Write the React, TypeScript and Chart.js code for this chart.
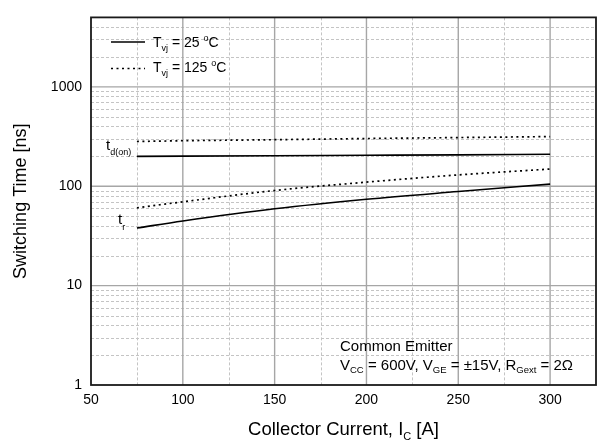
import React, { useEffect, useRef } from 'react';
import { Chart, registerables } from 'chart.js';

Chart.register(...registerables);

const FONT = '"Liberation Sans", Arial, Helvetica, sans-serif';

// Data (Collector current in A, switching time in ns)
const currents = [75, 100, 150, 200, 250, 300];
const tdOn25 = [200, 201, 203, 205, 207, 210];
const tdOn125 = [282, 287, 294, 302, 309, 316];
const tr25 = [38, 44.7, 59.3, 74, 88.5, 105];
const tr125 = [60.7, 69.7, 90.6, 110, 130, 149];

// Axis ticks and grid values
const xTicks = [50, 100, 150, 200, 250, 300];
const xMajorGrid = [100, 150, 200, 250, 300];
const xMinorGrid = [75, 125, 175, 225, 275];
const yTicks = [1, 10, 100, 1000];
const yMajorGrid = [10, 100, 1000];
const yMinorGrid = [
  2, 3, 4, 5, 6, 7, 8, 9,
  20, 30, 40, 50, 60, 70, 80, 90,
  200, 300, 400, 500, 600, 700, 800, 900,
  2000, 3000, 4000,
];

type Part = [string, 'n' | 'sub' | 'sup'];

function partFont(k: string, size: number, small: number) {
  return `${k === 'n' ? size : small}px ${FONT}`;
}

function richWidth(ctx: CanvasRenderingContext2D, parts: Part[], size: number, small: number) {
  let w = 0;
  for (const [t, k] of parts) {
    ctx.font = partFont(k, size, small);
    w += ctx.measureText(t).width;
  }
  return w;
}

function drawRich(
  ctx: CanvasRenderingContext2D,
  parts: Part[],
  x: number,
  y: number,
  size: number,
  small: number,
  subDy: number,
  supDy: number
) {
  let cx = x;
  ctx.textAlign = 'left';
  ctx.textBaseline = 'alphabetic';
  for (const [t, k] of parts) {
    ctx.font = partFont(k, size, small);
    const dy = k === 'sub' ? subDy : k === 'sup' ? supDy : 0;
    ctx.fillText(t, cx, y + dy);
    cx += ctx.measureText(t).width;
  }
}

const decorPlugin = {
  id: 'decor',
  beforeDatasetsDraw(chart: any) {
    const { ctx, chartArea, scales } = chart;
    const { left, right, top, bottom } = chartArea;
    const xs = scales.x;
    const ys = scales.y;
    ctx.save();
    // minor grid
    ctx.strokeStyle = '#c4c4c4';
    ctx.lineWidth = 1;
    ctx.setLineDash([3, 2]);
    for (const v of yMinorGrid) {
      const py = Math.round(ys.getPixelForValue(v)) + 0.5;
      ctx.beginPath();
      ctx.moveTo(left, py);
      ctx.lineTo(right, py);
      ctx.stroke();
    }
    for (const v of xMinorGrid) {
      const px = Math.round(xs.getPixelForValue(v)) + 0.5;
      ctx.beginPath();
      ctx.moveTo(px, top);
      ctx.lineTo(px, bottom);
      ctx.stroke();
    }
    // major grid
    ctx.setLineDash([]);
    ctx.strokeStyle = '#a6a6a6';
    ctx.lineWidth = 1.4;
    for (const v of yMajorGrid) {
      const py = ys.getPixelForValue(v);
      ctx.beginPath();
      ctx.moveTo(left, py);
      ctx.lineTo(right, py);
      ctx.stroke();
    }
    for (const v of xMajorGrid) {
      const px = xs.getPixelForValue(v);
      ctx.beginPath();
      ctx.moveTo(px, top);
      ctx.lineTo(px, bottom);
      ctx.stroke();
    }
    ctx.restore();
  },
  afterDraw(chart: any) {
    const { ctx, chartArea } = chart;
    const { left, right, top, bottom } = chartArea;
    ctx.save();
    // frame
    ctx.setLineDash([]);
    ctx.strokeStyle = '#1a1a1a';
    ctx.lineWidth = 1.8;
    ctx.strokeRect(left, top, right - left, bottom - top);

    ctx.fillStyle = '#000';
    // legend
    ctx.strokeStyle = '#000';
    ctx.lineWidth = 1.5;
    ctx.beginPath();
    ctx.moveTo(111, 42);
    ctx.lineTo(145, 42);
    ctx.stroke();
    ctx.setLineDash([2, 3.5]);
    ctx.lineWidth = 1.6;
    ctx.beginPath();
    ctx.moveTo(111, 68.5);
    ctx.lineTo(145, 68.5);
    ctx.stroke();
    ctx.setLineDash([]);
    drawRich(ctx, [['T', 'n'], ['vj', 'sub'], [' = 25 ', 'n'], ['o', 'sup'], ['C', 'n']], 153, 46.5, 14, 9, 4, -6);
    drawRich(ctx, [['T', 'n'], ['vj', 'sub'], [' = 125 ', 'n'], ['o', 'sup'], ['C', 'n']], 153, 72, 14, 9, 4, -6);

    // curve labels
    drawRich(ctx, [['t', 'n'], ['d(on)', 'sub']], 106, 150, 15, 9, 5, 0);
    drawRich(ctx, [['t', 'n'], ['r', 'sub']], 118, 224, 15, 9, 6, 0);

    // conditions
    drawRich(ctx, [['Common Emitter', 'n']], 340, 350.5, 15, 9.5, 3, 0);
    drawRich(
      ctx,
      [
        ['V', 'n'], ['CC', 'sub'], [' = 600V, V', 'n'], ['GE', 'sub'],
        [' = \u00b115V, R', 'n'], ['Gext', 'sub'], [' = 2\u03a9', 'n'],
      ],
      340, 370, 15, 9.5, 3, 0
    );

    // x title
    const xParts: Part[] = [['Collector Current, I', 'n'], ['C', 'sub'], [' [A]', 'n']];
    const w = richWidth(ctx, xParts, 18.5, 11);
    drawRich(ctx, xParts, (left + right) / 2 - w / 2, 434.5, 18.5, 11, 5, 0);

    // y title
    ctx.translate(21, (top + bottom) / 2);
    ctx.rotate(-Math.PI / 2);
    ctx.font = `18px ${FONT}`;
    ctx.textAlign = 'center';
    ctx.textBaseline = 'middle';
    ctx.fillText('Switching Time [ns]', 0, 0);
    ctx.restore();
  },
};

function series(values: number[]) {
  return values.map((v, i) => ({ x: currents[i], y: v }));
}

export default function App() {
  const ref = useRef<HTMLCanvasElement | null>(null);
  useEffect(() => {
    if (!ref.current) return;
    const solid = { borderColor: '#000', borderWidth: 1.6, pointRadius: 0, fill: false, cubicInterpolationMode: 'monotone' as const };
    const dotted = { ...solid, borderDash: [2, 3.5], borderWidth: 1.7 };
    const chart = new Chart(ref.current, {
      type: 'line',
      data: {
        datasets: [
          { label: 'td(on) 25', data: series(tdOn25), ...solid },
          { label: 'td(on) 125', data: series(tdOn125), ...dotted },
          { label: 'tr 25', data: series(tr25), ...solid },
          { label: 'tr 125', data: series(tr125), ...dotted },
        ],
      },
      options: {
        animation: false,
        responsive: false,
        devicePixelRatio: 1,
        layout: { padding: { left: 0, top: 15, right: 9, bottom: 0 } },
        plugins: { legend: { display: false }, tooltip: { enabled: false }, title: { display: false } },
        scales: {
          x: {
            type: 'linear',
            min: 50,
            max: 325,
            afterBuildTicks: (s: any) => {
              s.ticks = xTicks.map((v) => ({ value: v }));
            },
            afterFit: (s: any) => {
              s.height = 55;
            },
            grid: { display: false, drawTicks: false },
            border: { display: false },
            ticks: {
              padding: 7,
              color: '#000',
              font: { family: FONT, size: 14 },
              maxRotation: 0,
              autoSkip: false,
              callback: (v: any) => String(v),
            },
          },
          y: {
            type: 'logarithmic',
            min: 1,
            max: 5000,
            afterBuildTicks: (s: any) => {
              s.ticks = yTicks.map((v) => ({ value: v }));
            },
            afterFit: (s: any) => {
              s.width = 91;
            },
            grid: { display: false, drawTicks: false },
            border: { display: false },
            ticks: {
              padding: 9,
              color: '#000',
              font: { family: FONT, size: 14 },
              autoSkip: false,
              callback: (v: any) => String(v),
            },
          },
        },
      },
      plugins: [decorPlugin],
    });
    return () => chart.destroy();
  }, []);
  return (
    <div style={{ position: 'fixed', left: 0, top: 0, width: 605, height: 440, background: '#fff' }}>
      <canvas ref={ref} width={605} height={440} style={{ width: 605, height: 440, display: 'block' }} />
    </div>
  );
}
